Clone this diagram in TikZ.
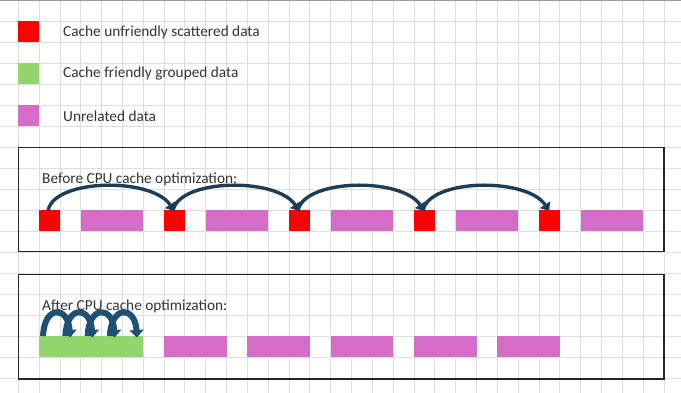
\documentclass[tikz,border=0pt]{standalone}
\usepackage{fontspec}
\setmainfont{Carlito}
\usetikzlibrary{arrows.meta}
\definecolor{gridc}{HTML}{DEDEDE}
\definecolor{redc}{HTML}{FF0000}
\definecolor{greenc}{HTML}{92D56E}
\definecolor{pinkc}{HTML}{D46CC8}
\definecolor{txtc}{HTML}{333333}
\definecolor{arrc}{HTML}{1D3D57}
\definecolor{loopc}{HTML}{1F4F74}
\tikzset{
  cell/.style={inner sep=0pt, outer sep=0pt, minimum height=21pt, draw=none, anchor=north west},
  redcell/.style={cell, fill=redc, minimum width=20.9pt},
  pinkcell/.style={cell, fill=pinkc, minimum width=62.5pt},
  greencell/.style={cell, fill=greenc, minimum width=104.2pt},
  legsq/.style={cell, minimum width=20.8pt},
  lbl/.style={inner sep=0pt, anchor=west, text=txtc, font=\fontsize{15.3}{17}\selectfont},
  frame/.style={draw=black!85, line width=1.5pt},
  hop/.style={draw=arrc, line width=3.4pt, -{Triangle[width=12pt,length=7.5pt]}},
  loop/.style={draw=loopc, line width=6pt, -{Triangle[width=14pt,length=7.5pt]}},
}
\begin{document}
\begin{tikzpicture}[x=1pt,y=-1pt]
\useasboundingbox (0,0) rectangle (681,393);
\fill[white] (0,0) rectangle (681,393);
% grid
\foreach \k in {-1,...,32} {\draw[gridc, line width=0.9pt] ({18.3+20.83*\k},0) -- ({18.3+20.83*\k},393);}
\foreach \k in {1,...,18} {\draw[gridc, line width=0.9pt] (0,{21*\k}) -- (681,{21*\k});}
\draw[black!40, line width=1.5pt] (0,0.75) -- (681,0.75);
% legend
\node[legsq, fill=redc] (lr) at (18.3,21) {};
\node[legsq, fill=greenc] (lg) at (18.3,63) {};
\node[legsq, fill=pinkc] (lp) at (18.3,105) {};
\node[lbl] (tr) at (63,32.5) {Cache unfriendly scattered data};
\node[lbl] (tg) at (63,74) {Cache friendly grouped data};
\node[lbl] (tp) at (63,116) {Unrelated data};
% before box
\draw[frame] (18.3,147.3) rectangle (664,251.7);
\node[lbl] (tb) at (42,179) {Before CPU cache optimization:};
\node[redcell] (r1) at (39.1,210) {};
\node[pinkcell] (p1) at (80.8,210) {};
\node[redcell] (r2) at (164.1,210) {};
\node[pinkcell] (p2) at (205.8,210) {};
\node[redcell] (r3) at (289.1,210) {};
\node[pinkcell] (p3) at (330.8,210) {};
\node[redcell] (r4) at (414.1,210) {};
\node[pinkcell] (p4) at (455.8,210) {};
\node[redcell] (r5) at (539.1,210) {};
\node[pinkcell] (p5) at (580.8,210) {};
\foreach \a/\b in {r1/r2,r2/r3,r3/r4,r4/r5} {
  \draw[hop] ([xshift=9pt,yshift=-0.5pt]\a.north west) .. controls +(6,-32) and +(-22,-34) .. ([xshift=10pt,yshift=-1pt]\b.north west);
}
% after box
\draw[frame] (18.3,274.3) rectangle (664,379);
\node[lbl] (ta) at (42,306.5) {After CPU cache optimization:};
\node[greencell] (g1) at (39.1,336) {};
\node[pinkcell] (q1) at (164.1,336) {};
\node[pinkcell] (q2) at (247.4,336) {};
\node[pinkcell] (q3) at (330.8,336) {};
\node[pinkcell] (q4) at (414.1,336) {};
\node[pinkcell] (q5) at (497.4,336) {};
\foreach \i in {0,1,2,3} {
  \draw[loop] ([xshift={4pt+22.3pt*\i},yshift=0pt]g1.north west) .. controls +(1,-31) and +(-2,-32) .. ([xshift={31pt+22.3pt*\i},yshift=-1.5pt]g1.north west);
}
\end{tikzpicture}
\end{document}
